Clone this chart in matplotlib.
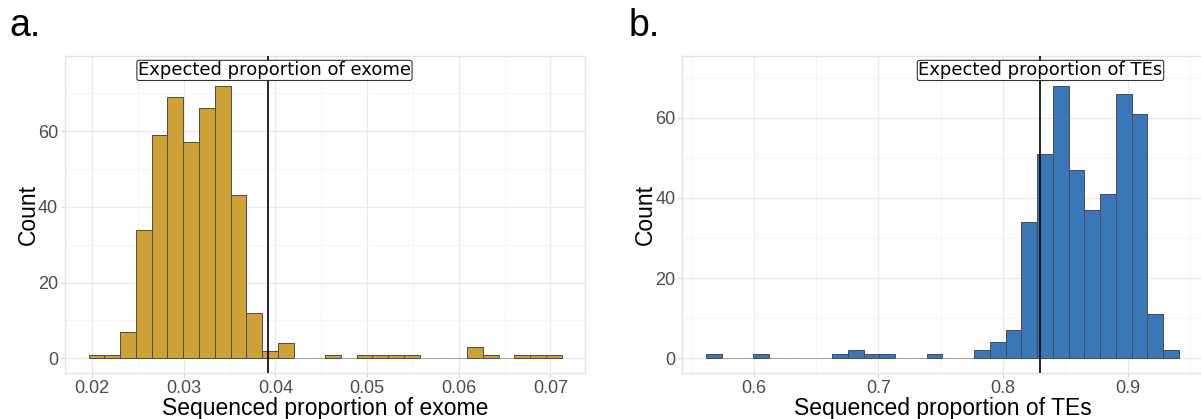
import numpy as np
import matplotlib
matplotlib.use("Agg")
import matplotlib.pyplot as plt
from matplotlib.ticker import MultipleLocator

plt.rcParams['font.family'] = ['Liberation Sans', 'DejaVu Sans']

# ---------------- data ----------------
# panel a: histogram of sequenced proportion of exome (30 bins)
exome_bin_start = 0.01963
exome_bin_width = 0.00172
exome_counts = [1, 1, 7, 34, 59, 69, 57, 66, 72, 43, 12, 2, 4, 0, 0,
                1, 0, 1, 1, 1, 1, 0, 0, 0, 3, 1, 0, 1, 1, 1]
exome_expected = 0.03916
exome_label = "Expected proportion of exome"
exome_label_x = 0.0399
exome_label_y = 76

# panel b: histogram of sequenced proportion of TEs (30 bins)
te_bin_start = 0.5618
te_bin_width = 0.01264
te_counts = [1, 0, 0, 1, 0, 0, 0, 0, 1, 2, 1, 1, 0, 0, 1,
             0, 0, 2, 4, 7, 34, 51, 68, 47, 37, 41, 66, 61, 11, 2]
te_expected = 0.83
te_label = "Expected proportion of TEs"
te_label_x = 0.83
te_label_y = 71.8

x_ticks_a = [0.02, 0.03, 0.04, 0.05, 0.06, 0.07]
x_ticklabels_a = ["0.02", "0.03", "0.04", "0.05", "0.06", "0.07"]
x_ticks_b = [0.6, 0.7, 0.8, 0.9]
x_ticklabels_b = ["0.6", "0.7", "0.8", "0.9"]
y_ticks = [0, 20, 40, 60]

# ---------------- figure ----------------
W, H = 1201, 419
fig = plt.figure(figsize=(W / 100, H / 100), dpi=100)

def px_axes(l, t, r, b):
    return fig.add_axes([l / W, 1 - b / H, (r - l) / W, (b - t) / H])

ax_a = px_axes(65, 56, 585, 372.7)
ax_b = px_axes(682.3, 56, 1202.6, 372.7)

def style(ax, xlim, ylim, xticks, xticklabels, xminor, xlabel):
    ax.set_xlim(*xlim)
    ax.set_ylim(*ylim)
    ax.set_xticks(xticks)
    ax.set_xticklabels(xticklabels)
    ax.set_yticks(y_ticks)
    ax.xaxis.set_minor_locator(MultipleLocator(xminor))
    ax.yaxis.set_minor_locator(MultipleLocator(10))
    ax.grid(which='major', color='#EBEBEB', linewidth=1.0, zorder=0)
    ax.grid(which='minor', color='#F5F5F5', linewidth=0.8, zorder=0)
    ax.set_axisbelow(True)
    for s in ax.spines.values():
        s.set_color('#E3E3E3')
        s.set_linewidth(1.0)
    ax.tick_params(which='major', length=3, width=0.8, color='#D0D0D0',
                   labelsize=13, labelcolor='#4D4D4D', pad=2)
    ax.tick_params(which='minor', length=0)
    ax.set_xlabel(xlabel, fontsize=16.5, color='black', labelpad=0)
    ax.set_ylabel("Count", fontsize=16.5, color='black', labelpad=-1.5)

def hist(ax, start, width, counts, color):
    counts = np.asarray(counts)
    lefts = start + width * np.arange(len(counts))
    edges = ['#4A4A4A' if c > 0 else '#A0A0A0' for c in counts]
    ax.bar(lefts, counts, width=width, align='edge', color=color,
           edgecolor=edges, linewidth=0.7, zorder=2)

hist(ax_a, exome_bin_start, exome_bin_width, exome_counts, '#CDA137')
hist(ax_b, te_bin_start, te_bin_width, te_counts, '#3A77B8')

style(ax_a, (0.01705, 0.07378), (-3.8, 79.8), x_ticks_a, x_ticklabels_a, 0.005,
      "Sequenced proportion of exome")
style(ax_b, (0.5428, 0.9600), (-3.59, 75.4), x_ticks_b, x_ticklabels_b, 0.05,
      "Sequenced proportion of TEs")

for ax, xv in ((ax_a, exome_expected), (ax_b, te_expected)):
    ax.axvline(xv, color='black', linewidth=1.2, zorder=3)

bbox = dict(boxstyle='round,pad=0.06,rounding_size=0.12', facecolor='white',
            edgecolor='#333333', linewidth=0.8)
ax_a.text(exome_label_x, exome_label_y, exome_label, ha='center', va='center',
          fontsize=13, family=['DejaVu Sans'], color='black', bbox=bbox, zorder=4)
ax_b.text(te_label_x, te_label_y, te_label, ha='center', va='center',
          fontsize=13, family=['DejaVu Sans'], color='black', bbox=bbox, zorder=4)

fig.text(9 / W, 1 - 36 / H, "a.", fontsize=27, ha='left', va='baseline')
fig.text(629 / W, 1 - 36 / H, "b.", fontsize=27, ha='left', va='baseline')

fig.savefig("out.png", dpi=100)
